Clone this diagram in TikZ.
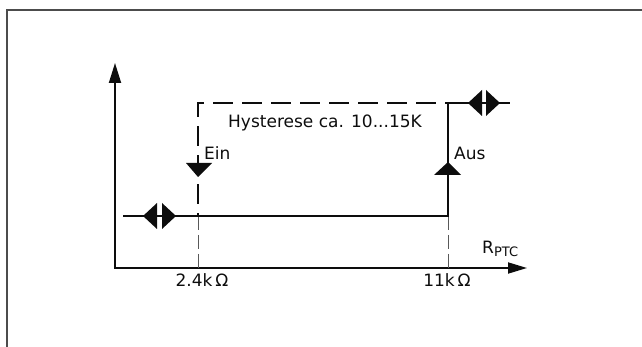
\documentclass[tikz,border=0pt]{standalone}
\usepackage{fontspec}
\setmainfont{DejaVu Sans}
\usetikzlibrary{arrows.meta}
\definecolor{ink}{gray}{0.05}
\definecolor{rule}{gray}{0.30}
\definecolor{guide}{gray}{0.35}
\tikzset{
  axis/.style={draw=ink, line width=1.8pt},
  branch/.style={draw=ink, line width=2pt},
  hystline/.style={draw=ink, line width=2.4pt, dash pattern=on 20pt off 9pt, dash phase=17pt},
  guideline/.style={draw=guide, line width=1pt, dash pattern=on 14pt off 5pt},
  label/.style={inner sep=0pt, text=ink},
}

\begin{document}
\begin{tikzpicture}[x=1pt, y=-1pt, font=\fontsize{17}{20}\selectfont]
\useasboundingbox (0,0) rectangle (642,347);
\def\xo{115}  % vertical axis
\def\yo{268}  % horizontal axis
\def\xa{198}  % switch-on point
\def\xb{448}  % switch-off point
\def\ylo{216}
\def\yhi{103}

% frame, only top and left edge
\draw[draw=rule, line width=2pt] (7,347) -- (7,10) -- (642,10);

% axes
\coordinate (origin) at (\xo,\yo);
\coordinate (ytip) at (\xo,63);
\coordinate (xtip) at (527,\yo);
\draw[axis, {Triangle[length=20pt, width=12pt]}-{Triangle[length=19pt, width=11pt]}]
  (ytip) -- (origin) -- (xtip);

% thin guides down to the axis
\coordinate (ona) at (\xa,\ylo);
\coordinate (onb) at (\xa,\yo);
\coordinate (offa) at (\xb,\ylo);
\coordinate (offb) at (\xb,\yo);
\draw[guideline] (ona) -- (onb);
\draw[guideline] (offa) -- (offb);

% low branch, rising at the switch-off point
\coordinate (lostart) at (123,\ylo);
\coordinate (offtop) at (\xb,\yhi);
\coordinate (hiend) at (510,\yhi);
\draw[branch] (lostart) -- (offa) -- (offtop) -- (hiend);

% dashed return branch
\coordinate (ontop) at (\xa,\yhi);
\draw[hystline] (ona) -- (ontop) -- (offtop);

% direction marks
\fill[ink] (186,163) -- (212,163) -- (\xa,177) -- cycle;
\fill[ink] (434,175) -- (461,175) -- (\xb,162) -- cycle;
% double marks on the two branches
\fill[ink] (143,\ylo) -- (157,203) -- (157,229) -- cycle;
\fill[ink] (176,\ylo) -- (162,203) -- (162,229) -- cycle;
\fill[ink] (468,\yhi) -- (482,90) -- (482,116) -- cycle;
\fill[ink] (500,\yhi) -- (486,90) -- (486,116) -- cycle;

% texts
\node[label, anchor=base west] (hyst) at (228,128) {Hysterese ca. 10...15K};
\node[label, anchor=base west] (ein) at (204,160) {Ein};
\node[label, anchor=base west] (aus) at (454,160) {Aus};
\node[label, anchor=base west] (rptc) at (482,254)
  {R\raisebox{-0.25ex}{\fontsize{13}{15}\selectfont PTC}};
\node[label, anchor=base] (kon) at (202,286) {2.4k\,Ω};
\node[label, anchor=base] (koff) at (447,286) {11k\,Ω};
\end{tikzpicture}
\end{document}
